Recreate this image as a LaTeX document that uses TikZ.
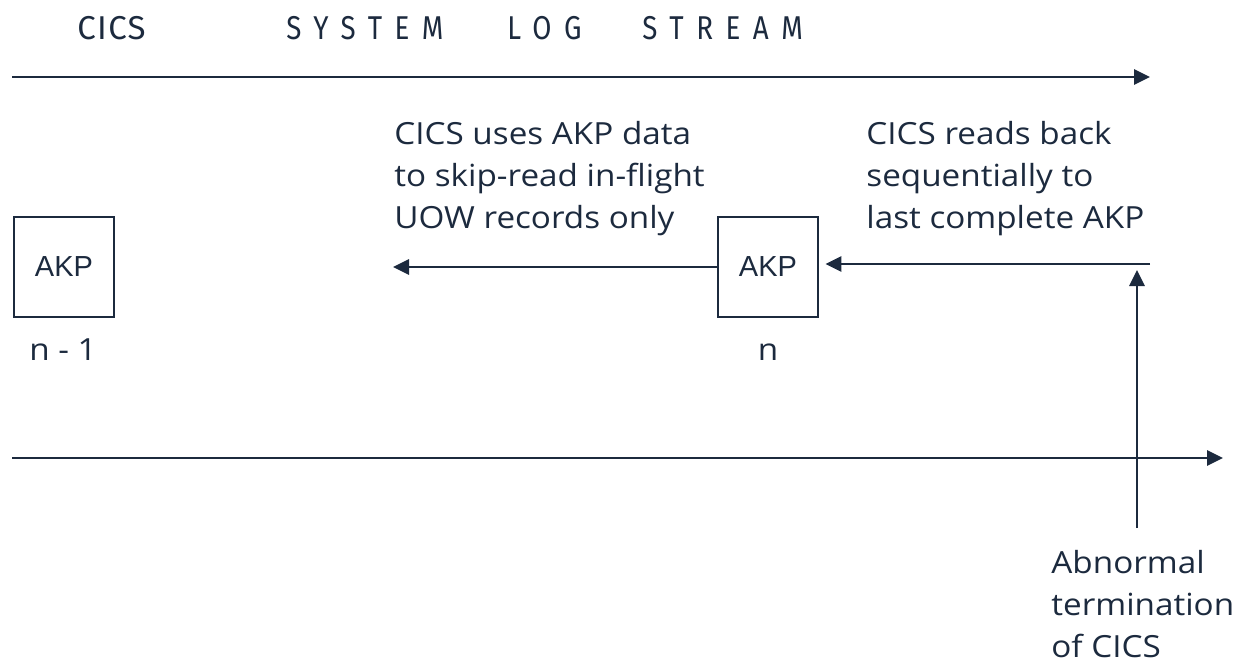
\documentclass[tikz,border=0pt]{standalone}
\usetikzlibrary{arrows.meta}
\usepackage{xcolor}
\usepackage{fontspec}
\setmainfont{Open Sans}[FakeStretch=1.09]
\newfontfamily\akpfamily{Liberation Sans}
\newfontfamily\headfamily{Fira Sans}[LetterSpace=4]
\newfontfamily\spacedfamily{Fira Sans}[FakeStretch=0.84,LetterSpace=38]
\definecolor{ink}{HTML}{1C2A3E}
\def\notefont{\fontsize{30.5}{42}\selectfont}

\begin{document}
\begin{tikzpicture}[x=1pt,y=-1pt,>={Triangle[length=16pt,width=15pt]},line width=2.8pt,draw=ink,text=ink]
    \tikzstyle{akp}=[draw,minimum width=100pt,minimum height=100pt,inner sep=0pt,font=\akpfamily\fontsize{29}{32}\selectfont]
    \tikzstyle{note}=[align=left,anchor=base west,inner sep=0pt,font=\notefont]
    \tikzstyle{tag}=[anchor=base,inner sep=0pt,font=\notefont]
    \tikzstyle{head}=[anchor=base west,inner sep=0pt,font=\headfamily\fontsize{33}{36}\selectfont]
    \tikzstyle{spaced}=[head,font=\spacedfamily\fontsize{33}{36}\selectfont]

    \useasboundingbox (0,0) rectangle (1241,663);

    % heading of the log stream
    \node[head] (cics) at (76,40) {CICS};
    \node[spaced] (system) at (285,40) {SYSTEM};
    \node[spaced] (log) at (506,40) {LOG};
    \node[spaced] (stream) at (641,40) {STREAM};

    \coordinate (top-start) at (12,77);
    \coordinate (top-end) at (1150,77);
    \draw[->] (top-start) -- (top-end);

    % activity keypoints
    \node[akp] (akp-prev) at (64,267) {AKP};
    \node[akp] (akp-n) at (768,267) {AKP};
    \node[tag] (lbl-prev) at (63,360) {n - 1};
    \node[tag] (lbl-n) at (768,360) {n};

    % multi-line notes sit on the baseline of their last line
    \node[note] (skip-note) at (393,228) {CICS uses AKP data\\to skip-read in-flight\\UOW records only};
    \node[note] (read-note) at (865,228) {CICS reads back\\sequentially to\\last complete AKP};

    \coordinate (skip-end) at (393,267);
    \coordinate (read-start) at (1150,264);
    \draw[->] (akp-n.west |- skip-end) -- (skip-end);
    \draw[->,shorten >=6pt] (read-start) -- (akp-n.east |- read-start);

    % failure point
    \coordinate (bot-start) at (12,458);
    \coordinate (bot-end) at (1223,458);
    \draw[->] (bot-start) -- (bot-end);

    \coordinate (crash) at (1137,528);
    \draw[->,shorten >=6pt] (crash) -- (crash |- read-start);

    \node[note] (crash-note) at (1050,657) {Abnormal\\termination\\of CICS};
\end{tikzpicture}
\end{document}
